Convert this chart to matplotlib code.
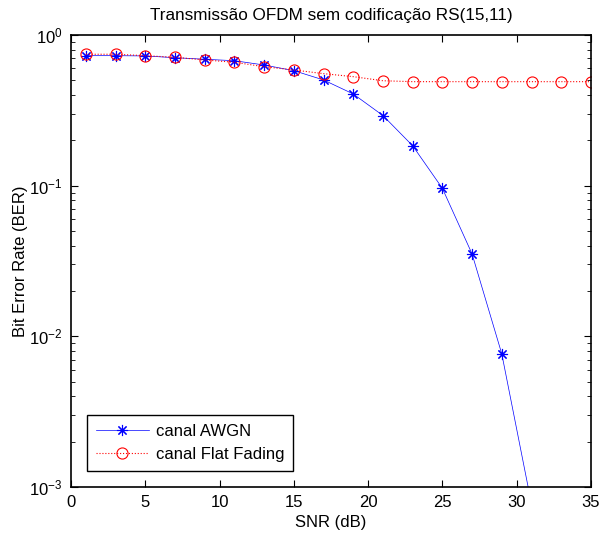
import numpy as np
import matplotlib.pyplot as plt
from matplotlib.ticker import LogLocator, NullFormatter

plt.rcParams['font.family'] = ['Liberation Sans', 'DejaVu Sans']
plt.rcParams['mathtext.fontset'] = 'custom'
plt.rcParams['mathtext.rm'] = 'Liberation Sans'

# SNR values (dB)
snr_awgn = [1, 3, 5, 7, 9, 11, 13, 15, 17, 19, 21, 23, 25, 27, 29, 31]
ber_awgn = [0.729, 0.729, 0.726, 0.707, 0.690, 0.675, 0.632, 0.580, 0.503,
            0.406, 0.292, 0.184, 0.096, 0.0352, 0.00764, 0.00077]

snr_fading = [1, 3, 5, 7, 9, 11, 13, 15, 17, 19, 21, 23, 25, 27, 29, 31, 33, 35]
ber_fading = [0.745, 0.745, 0.729, 0.711, 0.683, 0.659, 0.616, 0.586, 0.554,
              0.529, 0.497, 0.490, 0.490, 0.490, 0.490, 0.490, 0.490, 0.490]

fig = plt.figure(figsize=(6.03, 5.35), dpi=100)
ax = fig.add_axes([0.1177, 0.0897, 0.8623, 0.8449])

ax.semilogy(snr_awgn, ber_awgn, color='blue', linestyle='-', linewidth=0.5,
            marker=(8, 2, 0), markersize=8, markeredgewidth=0.8, label='canal AWGN')
ax.semilogy(snr_fading, ber_fading, color='red', linestyle=':', linewidth=0.8,
            marker='o', markersize=8, markerfacecolor='none', markeredgewidth=0.8,
            label='canal Flat Fading')

ax.set_xlim(0, 35)
ax.set_ylim(1e-3, 1)
ax.set_xticks([0, 5, 10, 15, 20, 25, 30, 35])
ax.yaxis.set_major_locator(LogLocator(base=10, numticks=10))
ax.yaxis.set_minor_locator(LogLocator(base=10, subs=np.arange(2, 10), numticks=10))
ax.yaxis.set_minor_formatter(NullFormatter())
ax.tick_params(direction='in', which='both', top=True, right=True, labelsize=12, pad=6)
ax.tick_params(which='major', length=5)
ax.tick_params(which='minor', length=3)
for s in ax.spines.values():
    s.set_linewidth(1.2)

ax.set_xlabel('SNR (dB)', fontsize=12, labelpad=3)
ax.set_ylabel('Bit Error Rate (BER)', fontsize=12, labelpad=1)
ax.set_title('Transmissão OFDM sem codificação RS(15,11)', fontsize=12.3, pad=11)

leg = ax.legend(loc='lower left', bbox_to_anchor=(0.03, 0.035), borderaxespad=0,
                fontsize=12, fancybox=False, edgecolor='black', framealpha=1,
                handlelength=3.2, handletextpad=0.4, borderpad=0.55,
                labelspacing=0.5)
leg.get_frame().set_linewidth(1.0)

fig.savefig('out.png', dpi=100)
